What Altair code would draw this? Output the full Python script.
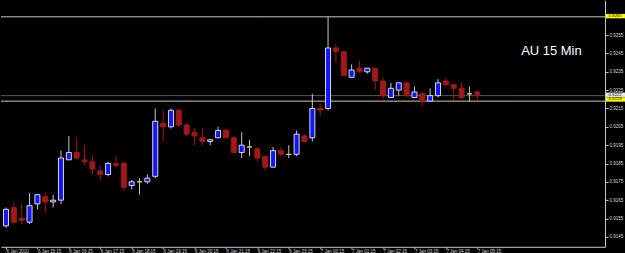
import altair as alt
import pandas as pd

# ---- data (AUDUSD, 15 min candles) ----
opens = [0.9151, 0.9161, 0.9155, 0.9153, 0.9163, 0.9167, 0.9164, 0.9165, 0.9187, 0.9191,
         0.9187, 0.9186, 0.9181, 0.9179, 0.9185, 0.9185, 0.9173, 0.9175, 0.9175, 0.9178,
         0.9207, 0.9205, 0.9214, 0.9206, 0.9202, 0.9199, 0.9197, 0.9199, 0.9203, 0.9199,
         0.9191, 0.9194, 0.9193, 0.9189, 0.9183, 0.9192, 0.9190, 0.9190, 0.9200, 0.9199,
         0.9215, 0.9215, 0.9248, 0.9246, 0.9232, 0.9237, 0.9235, 0.9237, 0.9230, 0.9221,
         0.9225, 0.9229, 0.9221, 0.9223, 0.9219, 0.9222, 0.9230, 0.9228, 0.9226, 0.9223,
         0.9224]
highs = [0.9161, 0.9164, 0.9163, 0.9169, 0.9168, 0.9169, 0.9168, 0.9192, 0.9200, 0.9199,
         0.9195, 0.9189, 0.9184, 0.9186, 0.9189, 0.9186, 0.9176, 0.9177, 0.9179, 0.9215,
         0.9214, 0.9215, 0.9215, 0.9207, 0.9204, 0.9204, 0.9198, 0.9205, 0.9204, 0.9200,
         0.9202, 0.9198, 0.9194, 0.9189, 0.9194, 0.9194, 0.9195, 0.9203, 0.9201, 0.9223,
         0.9218, 0.9265, 0.9250, 0.9246, 0.9239, 0.9241, 0.9237, 0.9237, 0.9232, 0.9229,
         0.9229, 0.9229, 0.9227, 0.9224, 0.9226, 0.9231, 0.9232, 0.9228, 0.9229, 0.9227,
         0.9225]
lows = [0.9150, 0.9152, 0.9152, 0.9152, 0.9160, 0.9158, 0.9161, 0.9163, 0.9187, 0.9187,
        0.9184, 0.9179, 0.9176, 0.9178, 0.9183, 0.9170, 0.9171, 0.9168, 0.9174, 0.9177,
        0.9197, 0.9204, 0.9205, 0.9200, 0.9195, 0.9195, 0.9195, 0.9199, 0.9199, 0.9191,
        0.9188, 0.9189, 0.9186, 0.9181, 0.9183, 0.9189, 0.9188, 0.9189, 0.9197, 0.9197,
        0.9211, 0.9214, 0.9240, 0.9233, 0.9232, 0.9235, 0.9234, 0.9225, 0.9220, 0.9221,
        0.9222, 0.9221, 0.9221, 0.9216, 0.9219, 0.9221, 0.9227, 0.9219, 0.9220, 0.9219,
        0.9219]
closes = [0.9160, 0.9153, 0.9154, 0.9162, 0.9168, 0.9164, 0.9165, 0.9188, 0.9191, 0.9188,
          0.9186, 0.9182, 0.9179, 0.9185, 0.9184, 0.9172, 0.9175, 0.9175, 0.9177, 0.9208,
          0.9205, 0.9214, 0.9206, 0.9201, 0.9200, 0.9197, 0.9198, 0.9203, 0.9199, 0.9191,
          0.9195, 0.9194, 0.9188, 0.9183, 0.9192, 0.9190, 0.9190, 0.9201, 0.9197, 0.9215,
          0.9214, 0.9248, 0.9246, 0.9233, 0.9236, 0.9235, 0.9237, 0.9230, 0.9222, 0.9226,
          0.9229, 0.9222, 0.9224, 0.9219, 0.9222, 0.9229, 0.9228, 0.9226, 0.9221, 0.9223,
          0.9222]

time_labels = ["6 Jan 2010", "6 Jan 15:15", "6 Jan 16:15", "6 Jan 17:15", "6 Jan 18:15",
               "6 Jan 19:15", "6 Jan 20:15", "6 Jan 21:15", "6 Jan 22:15", "6 Jan 23:15",
               "7 Jan 00:15", "7 Jan 01:15", "7 Jan 02:15", "7 Jan 03:15", "7 Jan 04:15",
               "7 Jan 05:15"]
time_label_idx = [0, 4, 8, 12, 16, 20, 24, 28, 32, 36, 40, 44, 48, 52, 56, 60]
price_ticks = [0.9145, 0.9155, 0.9165, 0.9175, 0.9185, 0.9195, 0.9205, 0.9215,
               0.9225, 0.9235, 0.9245, 0.9255]
top_line = [0.9265]
low_line = [0.9219]
bid_line = [0.9222]
chart_title = "AU 15 Min"

# ---- tables ----
def direction(o, c):
    if c > o:
        return "up"
    if c < o:
        return "down"
    return "doji"

candles = pd.DataFrame({
    "idx": list(range(len(opens))),
    "open": opens, "high": highs, "low": lows, "close": closes,
})
candles["dir"] = [direction(o, c) for o, c in zip(opens, closes)]


def level_df(vals):
    return pd.DataFrame({"level": vals, "label": [f"{v:.4f}" for v in vals]})


title_df = pd.DataFrame({"t": [chart_title]})

# ---- scales / axes ----
W, H = 605, 247
xs = alt.Scale(domain=[0, W / 8.0], nice=False, zero=False)
ys = alt.Scale(domain=[0.913956, 0.927406], nice=False, zero=False)

label_array = "[" + ",".join("'" + s + "'" for s in time_labels) + "]"
xaxis = alt.Axis(values=time_label_idx, labelExpr=label_array + "[round(datum.value/4)]",
                 labelAlign="left", labelBaseline="top", labelFontSize=4.5,
                 labelFont="Liberation Sans", labelColor="#d8d8d8", tickColor="#c8c8c8",
                 tickSize=2, labelPadding=0, domainColor="#c8c8c8", grid=False,
                 title=None, labelOverlap=False, labelFlush=False)
yaxis = alt.Axis(orient="right", values=price_ticks, format=".4f", labelFontSize=4.5,
                 labelFont="Liberation Sans", labelColor="#d8d8d8", tickColor="#c8c8c8",
                 tickSize=3, labelPadding=1, domainColor="#c8c8c8", grid=False,
                 title=None, labelOverlap=False, labelFlush=False)

dir_dom = ["up", "down", "doji"]
wick_col = alt.Scale(domain=dir_dom, range=["#c8c8c8", "#a01818", "#c8c39a"])
fill_col = alt.Scale(domain=dir_dom, range=["#1414ff", "#a01818", "#c8c39a"])
stroke_col = alt.Scale(domain=dir_dom, range=["#d8d8d8", "#a01818", "#c8c39a"])


def level_layers(vals, line_color, box_color, box_shift):
    df = level_df(vals)
    rule = alt.Chart(df).mark_rule(strokeWidth=1, color=line_color).encode(
        y=alt.Y("level:Q", scale=ys, axis=yaxis),
    )
    box = alt.Chart(df).transform_calculate(
        lo="datum.level - 0.00012", hi="datum.level + 0.00012"
    ).mark_rect(color=box_color, yOffset=box_shift, y2Offset=box_shift).encode(
        x=alt.value(606), x2=alt.value(625),
        y=alt.Y("lo:Q", scale=ys, axis=yaxis), y2="hi:Q",
    )
    txt = alt.Chart(df).mark_text(
        fontSize=4.3, font="Liberation Sans", color="#000000", align="center",
        baseline="middle", yOffset=box_shift,
    ).encode(x=alt.value(615), y=alt.Y("level:Q", scale=ys, axis=yaxis), text="label:N")
    return [rule, box, txt]


tl = level_layers(top_line, "#cfcab0", "#ffff00", -0.7)
ll = level_layers(low_line, "#cfcab0", "#ffff00", -1.7)
bl = level_layers(bid_line, "#5a5a5a", "#e8e8e8", -0.9)

wicks = alt.Chart(candles).mark_rule(strokeWidth=1, clip=True).encode(
    x=alt.X("idx:Q", scale=xs, axis=xaxis),
    y=alt.Y("low:Q", scale=ys, axis=yaxis),
    y2="high:Q",
    color=alt.Color("dir:N", scale=wick_col, legend=None),
)

bodies = alt.Chart(candles).mark_bar(size=5, strokeWidth=1, clip=True).encode(
    x=alt.X("idx:Q", scale=xs, axis=xaxis),
    y=alt.Y("open:Q", scale=ys, axis=yaxis),
    y2="close:Q",
    fill=alt.Fill("dir:N", scale=fill_col, legend=None),
    stroke=alt.Stroke("dir:N", scale=stroke_col, legend=None),
)

title = alt.Chart(title_df).mark_text(
    fontSize=13, font="Liberation Sans", color="#ffffff", align="left", baseline="middle"
).encode(x=alt.value(521), y=alt.value(51), text="t:N")

chart = alt.layer(
    tl[0], ll[0], bl[0], wicks, bodies,
    tl[1], tl[2], bl[1], bl[2], ll[1], ll[2], title,
).properties(
    width=W, height=H, padding=0, background="#000000",
).configure_view(stroke=None)

chart.save("out.html", embed_options={"renderer": "svg", "actions": False})
